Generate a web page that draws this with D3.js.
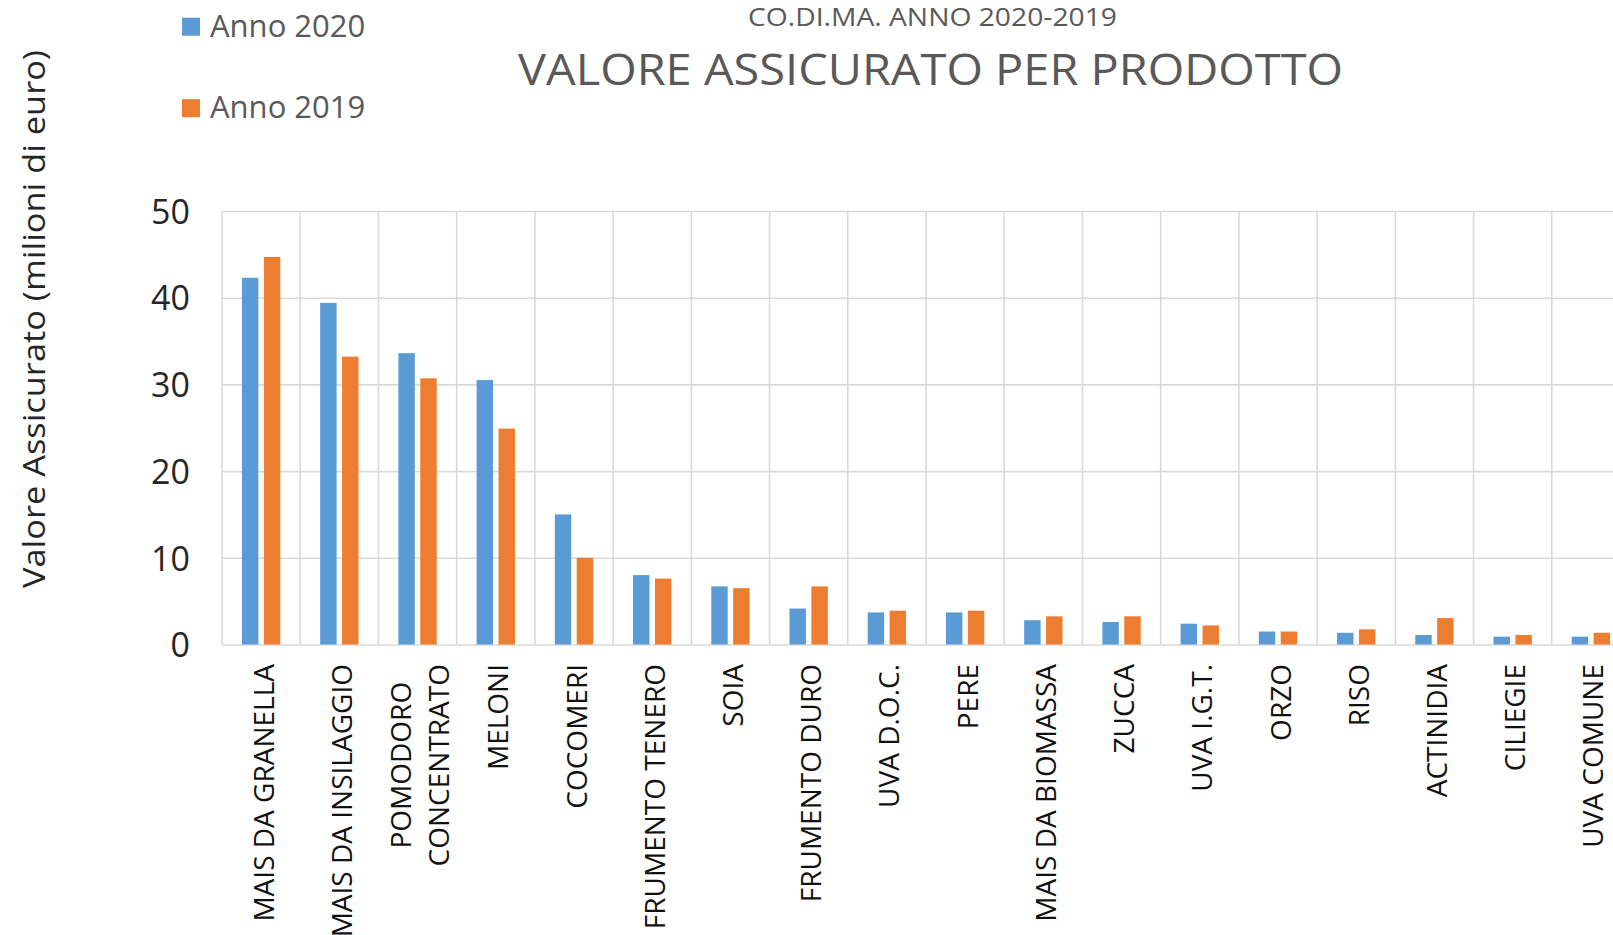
<!DOCTYPE html>
<html>
<head>
<meta charset="utf-8">
<script src="https://cdn.jsdelivr.net/npm/d3@7"></script>
<style>
  body { margin: 0; background: #fff; }
  text { font-family: "Open Sans", sans-serif; }
</style>
</head>
<body>
<svg id="chart"></svg>
<script>
// dati (milioni di euro)
const categories = [
  "MAIS DA GRANELLA", "MAIS DA INSILAGGIO", "POMODORO\nCONCENTRATO", "MELONI",
  "COCOMERI", "FRUMENTO TENERO", "SOIA", "FRUMENTO DURO", "UVA D.O.C.", "PERE",
  "MAIS DA BIOMASSA", "ZUCCA", "UVA I.G.T.", "ORZO", "RISO", "ACTINIDIA",
  "CILIEGIE", "UVA COMUNE"
];
const seriesNames = ["Anno 2020", "Anno 2019"];
const values2020 = [42.3, 39.4, 33.6, 30.5, 15.0, 8.0, 6.7, 4.15, 3.7, 3.7, 2.8, 2.6, 2.4, 1.5, 1.35, 1.1, 0.9, 0.9];
const values2019 = [44.7, 33.2, 30.7, 24.9, 10.0, 7.6, 6.5, 6.7, 3.9, 3.9, 3.25, 3.25, 2.2, 1.5, 1.75, 3.05, 1.1, 1.35];
const yTicks = [0, 10, 20, 30, 40, 50];

const width = 1613;
const height = 935;
const plot = { left: 222, right: 1630, top: 211, bottom: 644.5 };
const colors = ["#5B9BD5", "#ED7D31"];
const gridColor = "#D9D9D9";

const svg = d3.select("#chart").attr("width", width).attr("height", height);

const rows = categories.map((c, i) => ({ cat: c, vals: [values2020[i], values2019[i]] }));

// scale
const x = d3.scaleBand().domain(categories).range([plot.left, plot.right]).padding(0);
const x1 = d3.scaleBand().domain(seriesNames).range([0, x.bandwidth()])
  .paddingInner(0.25).paddingOuter(0.91);
const y = d3.scaleLinear().domain([0, 50]).range([plot.bottom, plot.top]);

// griglia orizzontale + etichette asse y
const yAxis = svg.append("g")
  .attr("transform", `translate(${plot.left},0)`)
  .call(d3.axisLeft(y).tickValues(yTicks).tickSize(-(plot.right - plot.left)).tickPadding(32));
yAxis.select(".domain").remove();
yAxis.selectAll(".tick line").attr("stroke", gridColor).attr("stroke-width", 1.6);
yAxis.selectAll(".tick text")
  .attr("fill", "#262626")
  .style("font-size", "34px")
  .style("font-family", "'Open Sans', sans-serif")
  .attr("dy", "0.36em");

// griglia verticale ai bordi delle categorie
const edges = categories.map(c => x(c)).concat([x.range()[1]]);
svg.append("g").selectAll("line")
  .data(edges)
  .join("line")
  .attr("x1", d => d).attr("x2", d => d)
  .attr("y1", plot.top).attr("y2", plot.bottom)
  .attr("stroke", gridColor).attr("stroke-width", 1.6);

// barre
const groups = svg.append("g").selectAll("g")
  .data(rows)
  .join("g")
  .attr("transform", d => `translate(${x(d.cat)},0)`);

groups.selectAll("rect")
  .data(d => d.vals.map((v, i) => ({ key: seriesNames[i], v, i })))
  .join("rect")
  .attr("x", d => x1(d.key))
  .attr("width", x1.bandwidth())
  .attr("y", d => y(d.v))
  .attr("height", d => y(0) - y(d.v))
  .attr("fill", d => colors[d.i]);

// etichette categorie (ruotate)
const labelTop = 664;
const lineGap = 37.5;
categories.forEach(c => {
  const lines = c.split("\n");
  const cx = x(c) + x.bandwidth() / 2;
  const g = svg.append("g");
  const texts = lines.map(line => g.append("text")
    .text(line)
    .style("font-size", "28px")
    .attr("fill", "#111"));
  const maxLen = d3.max(texts, t => t.node().getComputedTextLength());
  texts.forEach((t, i) => {
    const bx = cx + 12.5 + (i - (lines.length - 1) / 2) * lineGap;
    t.attr("text-anchor", "middle")
      .attr("transform", `translate(${bx},${labelTop + maxLen / 2}) rotate(-90)`);
  });
});

// titolo asse y
svg.append("text")
  .attr("transform", "translate(45,319) rotate(-90)")
  .attr("text-anchor", "middle")
  .attr("textLength", 538)
  .attr("lengthAdjust", "spacingAndGlyphs")
  .style("font-size", "31px")
  .attr("fill", "#262626")
  .text("Valore Assicurato (milioni di euro)");

// titoli
svg.append("text")
  .attr("x", 748).attr("y", 26)
  .attr("textLength", 369)
  .attr("lengthAdjust", "spacingAndGlyphs")
  .style("font-size", "26px")
  .attr("fill", "#595959")
  .text("CO.DI.MA. ANNO 2020-2019");

svg.append("text")
  .attr("x", 518).attr("y", 85)
  .attr("textLength", 825)
  .attr("lengthAdjust", "spacingAndGlyphs")
  .style("font-size", "44px")
  .attr("fill", "#595959")
  .text("VALORE ASSICURATO PER PRODOTTO");

// legenda
const legend = svg.append("g");
seriesNames.forEach((s, i) => {
  const lg = legend.append("g").attr("transform", `translate(182,${i * 81.5})`);
  lg.append("rect").attr("x", 0).attr("y", 17.7).attr("width", 18).attr("height", 18).attr("fill", colors[i]);
  lg.append("text").attr("x", 28).attr("y", 36.7)
    .style("font-size", "31px")
    .attr("fill", "#595959")
    .text(s);
});
</script>
</body>
</html>
